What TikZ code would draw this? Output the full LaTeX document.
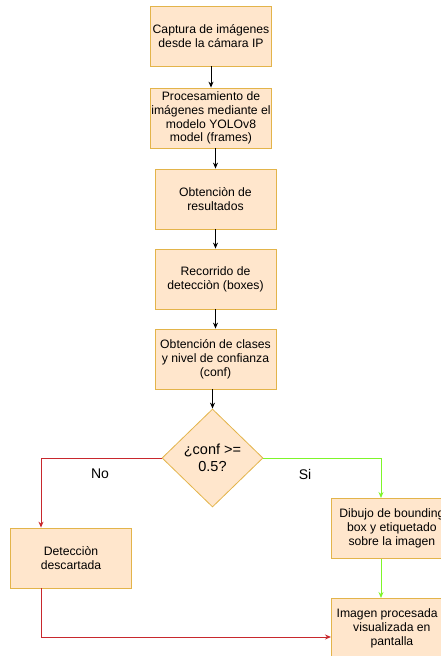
\documentclass[tikz,border=0pt]{standalone}
\usepackage{fontspec}
\setmainfont{Liberation Sans}
\usetikzlibrary{shapes.geometric,arrows.meta}
\definecolor{boxfill}{HTML}{FFE6CC}
\definecolor{boxline}{HTML}{E3B44A}
\definecolor{nored}{HTML}{C8282D}
\definecolor{sigreen}{HTML}{7FF52A}
\tikzset{
  stepbox/.style={draw=boxline, fill=boxfill, line width=0.8pt, minimum width=121pt,
    minimum height=60pt, align=center, font=\fontsize{12.2}{13.8}\selectfont, inner sep=1pt},
  decision/.style={diamond, draw=boxline, fill=boxfill, line width=0.8pt, minimum width=101pt,
    minimum height=98pt, aspect=1, align=center, inner sep=0pt, font=\fontsize{14.5}{17.5}\selectfont},
  flow/.style={-{Stealth[length=6pt,width=5pt]}, line width=1pt},
  edgelabel/.style={font=\fontsize{14}{16}\selectfont},
}
\begin{document}
\begin{tikzpicture}[x=1pt,y=-1pt]
  \useasboundingbox (0,0) rectangle (441,656);
  \clip (0,0) rectangle (441,656);
  \node[stepbox] (cap) at (211,36) {Captura de imágenes\\desde la cámara IP};
  \node[stepbox] (proc) at (211,118) {Procesamiento de\\imágenes mediante el\\modelo YOLOv8\\model (frames)};
  \node[stepbox] (res) at (215.5,199) {Obtenciòn de\\resultados};
  \node[stepbox] (rec) at (215.5,279) {Recorrido de\\detecciòn (boxes)};
  \node[stepbox] (cls) at (215.5,359) {Obtención de clases\\y nivel de confianza\\(conf)};
  \node[decision] (dec) at (212.5,458) {¿conf >=\\0.5?};
  \node[stepbox] (desc) at (71,558) {Detecciòn\\descartada};
  \node[stepbox, anchor=north west] (bbox) at (331,498) {Dibujo de bounding\\box y etiquetado\\sobre la imagen};
  \node[stepbox, anchor=north west] (out) at (331,598) {Imagen procesada y\\visualizada en\\pantalla};
  \coordinate (noturn) at (41,458);
  \coordinate (siturn) at (381,458);
  \coordinate (downturn) at (41,637);

  \draw[flow] (cap) -- (proc);
  \draw[flow] (proc.south -| res) -- (res);
  \draw[flow] (res) -- (rec);
  \draw[flow] (rec) -- (cls);
  \draw[flow] (cls.south -| dec) -- (dec);
  \draw[flow, draw=nored, -{Stealth[length=6pt,width=5pt,fill=nored]}] (dec.west) -- (noturn) -- (desc.north -| noturn);
  \draw[flow, draw=sigreen] (dec.east) -- (siturn) -- (bbox.north -| siturn);
  \draw[flow, draw=sigreen] (bbox.south -| siturn) -- (out.north -| siturn);
  \draw[flow, draw=nored] (desc.south -| downturn) -- (downturn) -- (out.west |- downturn);
  \node[edgelabel] (nolab) at (100,474) {No};
  \node[edgelabel] (silab) at (305,474) {Si};
\end{tikzpicture}
\end{document}
